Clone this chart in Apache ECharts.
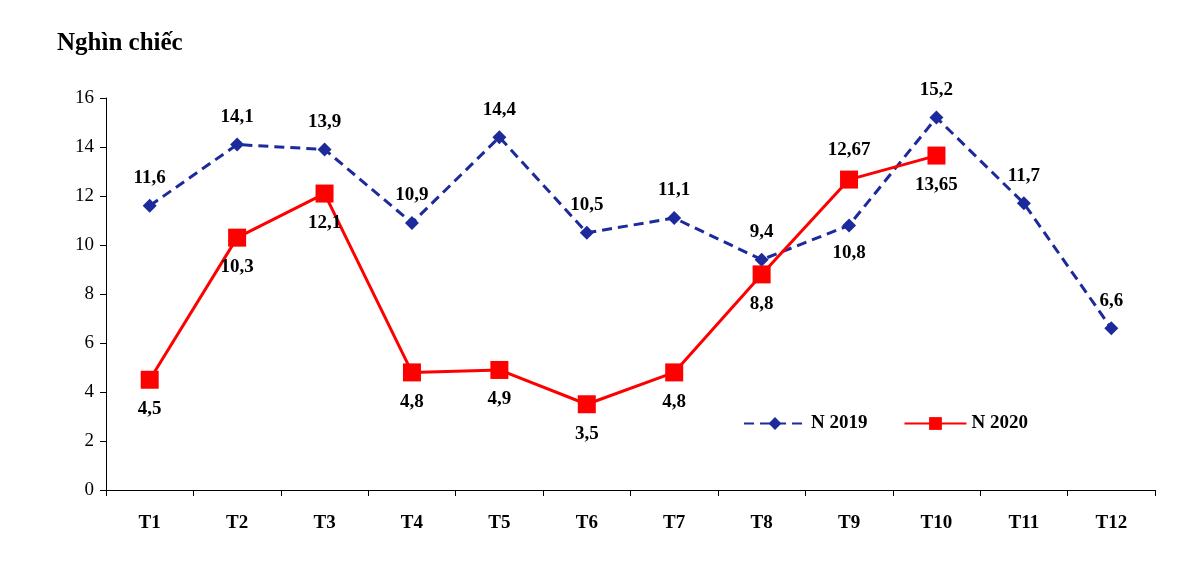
<!DOCTYPE html>
<html><head><meta charset="utf-8">
<script src="https://cdn.jsdelivr.net/npm/echarts@6/dist/echarts.min.js"></script>
<style>body{margin:0;background:#fff}#c{width:1200px;height:580px}</style>
</head><body><div id="c"></div>
<script>
const months = ['T1','T2','T3','T4','T5','T6','T7','T8','T9','T10','T11','T12'];
const y2019 = [11.6, 14.1, 13.9, 10.9, 14.4, 10.5, 11.1, 9.4, 10.8, 15.2, 11.7, 6.6];
const y2020 = [4.5, 10.3, 12.1, 4.8, 4.9, 3.5, 4.8, 8.8, 12.67, 13.65];
const below2019 = [8];
const above2020 = [8];

const font = 'Liberation Serif';
const fmt = v => String(v).replace('.', ',');
const lbl = (pos) => ({ show: true, position: pos, distance: 11, fontFamily: font, fontWeight: 'bold', fontSize: 19, color: '#000', formatter: p => fmt(p.value) });

const chart = echarts.init(document.getElementById('c'));
chart.setOption({
  animation: false,
  title: { text: 'Nghìn chiếc', left: 52, top: 26, textStyle: { fontFamily: font, fontWeight: 'bold', fontSize: 25, color: '#000' } },
  legend: {
    left: 738, top: 409, itemWidth: 62, itemHeight: 16, itemGap: 36,
    textStyle: { fontFamily: font, fontWeight: 'bold', fontSize: 19, color: '#000' },
    data: ['N 2019', 'N 2020']
  },
  grid: { left: 106, right: 45, top: 98, bottom: 90 },
  xAxis: {
    type: 'category', data: months,
    axisLine: { lineStyle: { color: '#000' } },
    axisTick: { show: true, alignWithLabel: false, length: 6, lineStyle: { color: '#000' } },
    axisLabel: { fontFamily: font, fontWeight: 'bold', fontSize: 19, color: '#000', margin: 24 }
  },
  yAxis: {
    type: 'value', min: 0, max: 16, interval: 2,
    axisLine: { show: true, lineStyle: { color: '#000' } },
    axisTick: { show: true, length: 6, lineStyle: { color: '#000' } },
    splitLine: { show: false },
    axisLabel: { fontFamily: font, fontSize: 19, color: '#000', margin: 12 }
  },
  series: [
    {
      name: 'N 2019', type: 'line', symbol: 'diamond', symbolSize: 14,
      lineStyle: { color: '#1c2a9c', width: 3, type: [10, 6] },
      itemStyle: { color: '#1c2a9c' },
      data: y2019.map((v, i) => ({ value: v, label: lbl(below2019.includes(i) ? 'bottom' : 'top') })),
      z: 2
    },
    {
      name: 'N 2020', type: 'line', symbol: 'rect', symbolSize: 18,
      lineStyle: { color: '#ff0000', width: 3 },
      itemStyle: { color: '#ff0000' },
      data: y2020.map((v, i) => ({ value: v, label: lbl(above2020.includes(i) ? 'top' : 'bottom') })),
      z: 3
    }
  ]
});
</script></body></html>
